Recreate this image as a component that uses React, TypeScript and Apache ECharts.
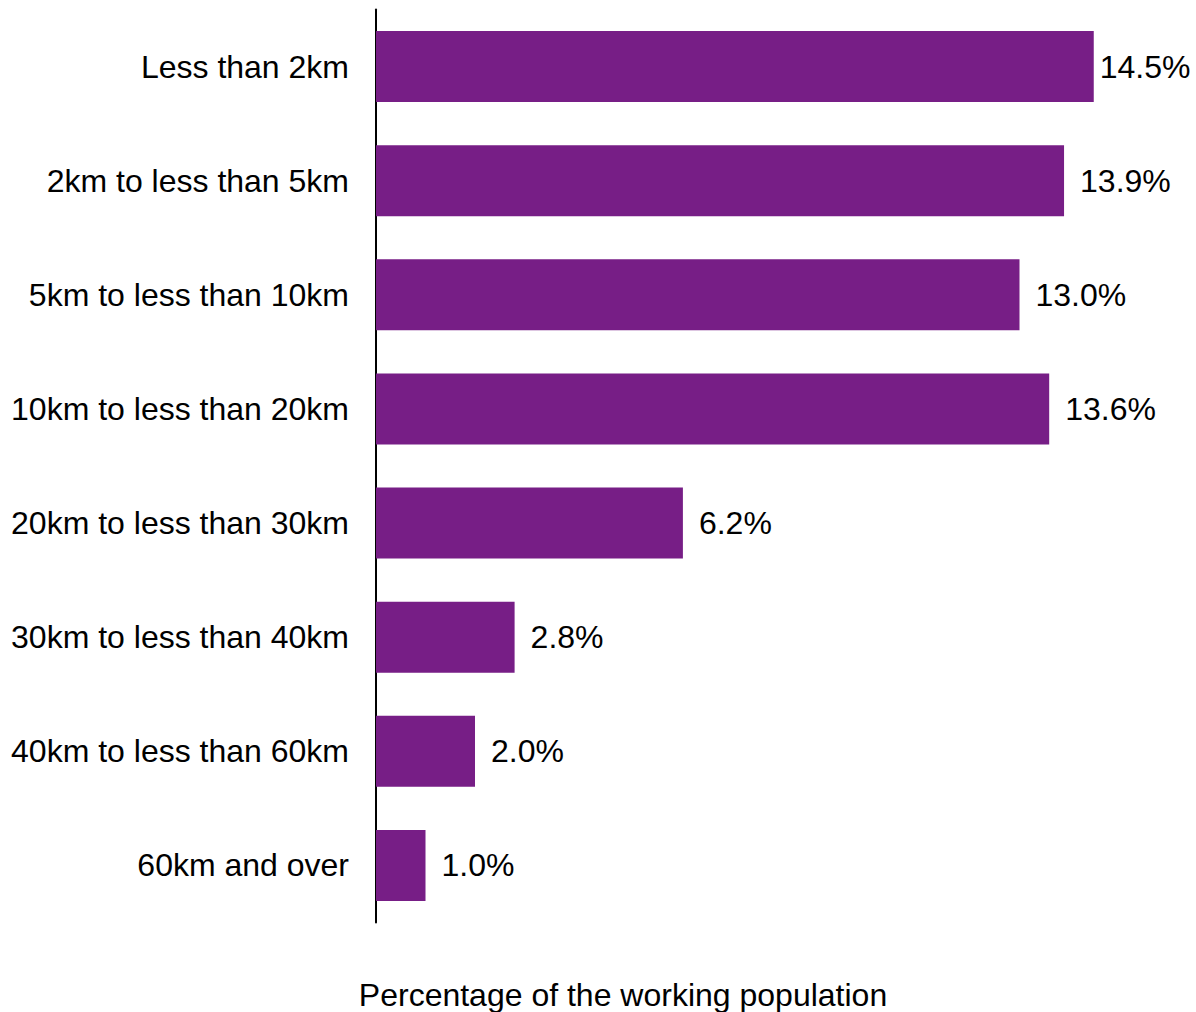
import React, { useEffect, useRef } from "react";
import * as echarts from "echarts";

const categories = [
  "Less than 2km",
  "2km to less than 5km",
  "5km to less than 10km",
  "10km to less than 20km",
  "20km to less than 30km",
  "30km to less than 40km",
  "40km to less than 60km",
  "60km and over",
];
const values = [14.5, 13.9, 13.0, 13.6, 6.2, 2.8, 2.0, 1.0];
const axisTitle = "Percentage of the working population";

const FONT = "'Liberation Sans', Arial, Helvetica, sans-serif";

export default function App() {
  const ref = useRef<HTMLDivElement>(null);
  useEffect(() => {
    if (!ref.current) return;
    const chart = echarts.init(ref.current, null, { renderer: "svg" });
    chart.setOption({
      animation: false,
      backgroundColor: "#ffffff",
      grid: { left: 376, right: 28, top: 9.5, bottom: 89.5 },
      xAxis: {
        type: "value",
        min: 0,
        max: 16,
        show: false,
      },
      yAxis: {
        type: "category",
        inverse: true,
        data: categories,
        axisLine: { show: true, lineStyle: { color: "#000000", width: 2 } },
        axisTick: { show: false },
        axisLabel: {
          margin: 27,
          fontSize: 32,
          color: "#000000",
          fontFamily: FONT,
        },
      },
      series: [
        {
          type: "bar",
          barWidth: 71,
          itemStyle: { color: "#771e86" },
          data: values.map((v, i) => ({
            value: v,
            label: i === 0 ? { distance: 6 } : undefined,
          })),
          label: {
            show: true,
            position: "right",
            distance: 16,
            fontSize: 32,
            color: "#000000",
            fontFamily: FONT,
            formatter: (p: any) => p.value.toFixed(1) + "%",
          },
        },
      ],
      graphic: [
        {
          type: "text",
          x: 623,
          y: 995,
          style: {
            text: axisTitle,
            fontSize: 32,
            fill: "#000000",
            fontFamily: FONT,
            textAlign: "center",
            textVerticalAlign: "middle",
          },
        },
      ],
    });
    return () => chart.dispose();
  }, []);
  return (
    <div
      ref={ref}
      style={{ position: "fixed", left: 0, top: 0, width: 1196, height: 1012 }}
    />
  );
}
